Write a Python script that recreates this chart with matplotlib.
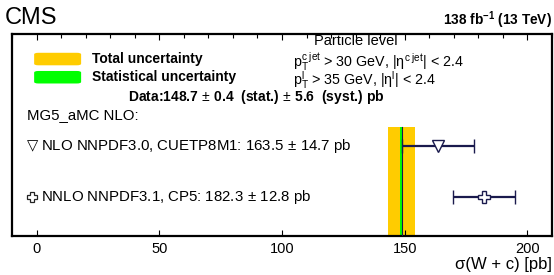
import matplotlib
matplotlib.use("Agg")
import matplotlib.pyplot as plt
from matplotlib.patches import FancyBboxPatch
from matplotlib.ticker import MultipleLocator

plt.rcParams['font.family'] = ['Liberation Sans', 'DejaVu Sans']
plt.rcParams['mathtext.fontset'] = 'custom'
plt.rcParams['mathtext.rm'] = 'Liberation Sans'
plt.rcParams['mathtext.it'] = 'Liberation Sans'
plt.rcParams['mathtext.bf'] = 'Liberation Sans:bold'

# Data
data_value = 148.7
data_stat = 0.4
data_syst = 5.6
pred_names = ["NLO NNPDF3.0, CUETP8M1", "NNLO NNPDF3.1, CP5"]
pred_values = [163.5, 182.3]
pred_errors = [14.7, 12.8]
pred_markers = ["v", "P"]
pred_ypos = [0.446, 0.193]
xticks = [0, 50, 100, 150, 200]

total = (data_stat**2 + data_syst**2) ** 0.5
navy = "#1a1a4d"

fig = plt.figure(figsize=(5.54, 2.75), dpi=100)
ax = fig.add_axes([12/554, 39/275, 540/554, 202/275])
ax.set_xlim(-10, 210)
ax.set_ylim(0, 1)

# uncertainty bands
ax.fill_between([data_value - total, data_value + total], 0, 0.54, color="#FFCC00", lw=0, zorder=1)
ax.fill_between([data_value - max(data_stat, 0.6), data_value + max(data_stat, 0.6)], 0, 0.54,
                color="#00FF00", lw=0, zorder=2)
ax.plot([data_value, data_value], [0, 0.54], color=navy, lw=0.8, zorder=3)

for v, e, m, y in zip(pred_values, pred_errors, pred_markers, pred_ypos):
    ax.errorbar([v], [y], xerr=[e], fmt=m, color=navy, ecolor=navy, elinewidth=1.6,
                capsize=5, capthick=1.6, markersize=9, markerfacecolor="white",
                markeredgecolor=navy, markeredgewidth=1.0, zorder=5)

# axes styling
for s in ax.spines.values():
    s.set_linewidth(1.6)
ax.set_yticks([])
ax.set_xticks(xticks)
ax.xaxis.set_minor_locator(MultipleLocator(10))
ax.tick_params(axis='x', which='major', direction='in', top=True, bottom=True,
               length=4, width=0.8, labelsize=10.5, pad=4)
ax.tick_params(axis='x', which='minor', direction='in', top=True, bottom=False,
               length=3, width=0.8)
ax.set_xlabel(r"σ(W + c) [pb]", fontsize=12, loc='right', labelpad=1)

# legend boxes
tr = ax.transAxes
ax.add_patch(FancyBboxPatch((0.041, 0.845), 0.087, 0.062, boxstyle="round,pad=0,rounding_size=0.008",
                            transform=tr, color="#FFCC00", lw=0))
ax.add_patch(FancyBboxPatch((0.041, 0.755), 0.087, 0.062, boxstyle="round,pad=0,rounding_size=0.008",
                            transform=tr, color="#00FF00", lw=0))
ax.text(0.148, 0.876, "Total uncertainty", transform=tr, fontsize=10, fontweight='bold', va='center')
ax.text(0.148, 0.787, "Statistical uncertainty", transform=tr, fontsize=10, fontweight='bold', va='center')
ax.text(0.215, 0.688,
        f"Data:{data_value}$\\,\\pm\\,${data_stat}  (stat.)$\\,\\pm\\,${data_syst}  (syst.) pb",
        transform=tr, fontsize=10, fontweight='bold', va='center')
ax.text(0.028, 0.599, "MG5_aMC NLO:", transform=tr, fontsize=10.8, va='center')

# symbols in the labels
ax.text(0.027, pred_ypos[0], "\u25BD", transform=tr, fontsize=10.5, va='center', family=['DejaVu Sans'])
ax.plot([0.037], [pred_ypos[1]], marker='P', markersize=7.5, markerfacecolor='white',
        markeredgecolor='#222222', markeredgewidth=0.9, transform=tr, clip_on=False, zorder=6)
for name, v, e, y in zip(pred_names, pred_values, pred_errors, pred_ypos):
    ax.text(0.054, y, f"{name}: {v}$\\,\\pm\\,${e} pb", transform=tr, fontsize=10.8, va='center')

ax.text(0.637, 0.963, "Particle level", transform=tr, fontsize=10.5, ha='center', va='center')
ax.text(0.520, 0.860, r"$\mathregular{p_T^{c\ jet}}$ > 30 GeV, |$\mathregular{\eta^{c\ jet}}$| < 2.4",
        transform=tr, fontsize=10.3, va='center')
ax.text(0.520, 0.770, r"$\mathregular{p_T^{l}}$ > 35 GeV, |$\mathregular{\eta^{l}}$| < 2.4",
        transform=tr, fontsize=10.3, va='center')

fig.text(5/554, 1 - 18/275, "CMS", fontsize=17, va='center', ha='left')
fig.text(552/554, 1 - 20/275, r"138 fb$^{\mathbf{-1}}$ (13 TeV)", fontsize=9.8,
         fontweight='bold', va='center', ha='right')

fig.savefig("out.png", dpi=100)
